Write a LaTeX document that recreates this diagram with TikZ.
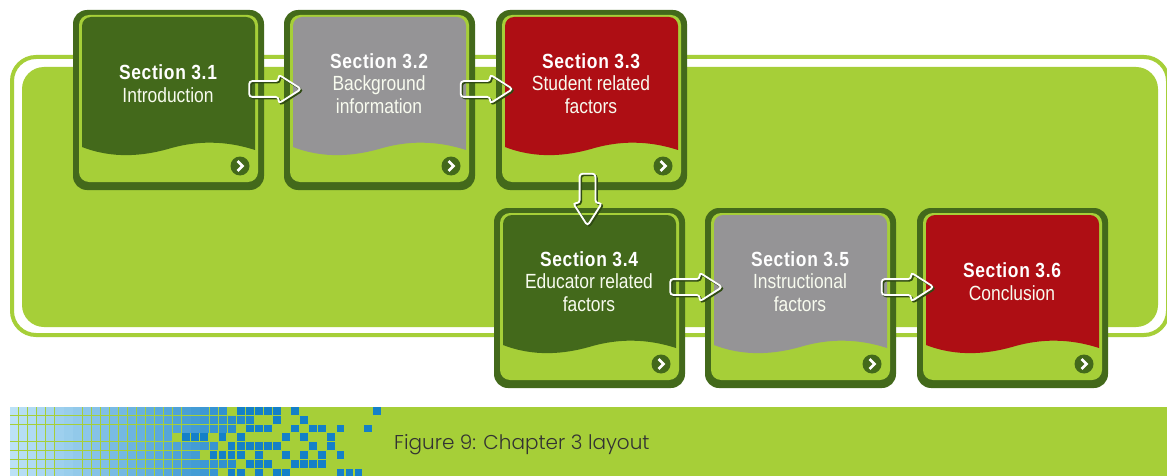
\documentclass[tikz,border=0pt]{standalone}
\usepackage{fontspec}
\usepackage{xcolor}
\usetikzlibrary{shapes.arrows}
\setmainfont[FakeStretch=0.85]{Liberation Sans}
\newfontfamily\captionfont{Poppins Light}

\definecolor{leafgreen}{HTML}{A6CF38}
\definecolor{darkgreen}{HTML}{43691B}
\definecolor{panelgrey}{HTML}{959496}
\definecolor{panelred}{HTML}{AE0E14}
\definecolor{palecell}{HTML}{BCE2F6}
\definecolor{bluecell}{HTML}{1480C8}

\tikzset{
    cardbox/.style={draw=none,fill=darkgreen,rounded corners=14pt,minimum width=191pt,minimum height=180pt,inner sep=0pt,outer sep=0pt},
    cardlabel/.style={text=white!92!leafgreen,align=center,font=\fontsize{20.5}{22.5}\selectfont},
    nextbutton/.style={circle,fill=darkgreen,minimum size=19pt,inner sep=0pt},
    flowarrow/.style={single arrow,single arrow head extend=6.5pt,single arrow tip angle=65,minimum height=52pt,minimum width=27pt,inner sep=7pt,rounded corners=3pt,line width=1.8pt,anchor=center},
    flowline/.style={flowarrow,draw=white},
    flowshade/.style={flowarrow,draw=darkgreen!70!black},
}

\newcommand{\sectitle}[1]{{\color{white}\bfseries\addfontfeature{LetterSpace=3.2}#1}}

% one section card, #2,#3 is its top left corner
\newcommand{\sectioncard}[5]{
    \begin{scope}[shift={(#2,#3)}]
        \node[cardbox] (#1) at (95.5,90) {};
        \fill[leafgreen,rounded corners=10pt] (6,5) rectangle (185,172);
        \fill[#4] (9,137) .. controls (40,149) and (70,146) .. (95,139)
            .. controls (115,133) and (145,128) .. (182,140)
            [rounded corners=9pt] -- (182,7) -- (9,7) [sharp corners] -- cycle;
        \node[cardlabel] (#1label) at (95,73.5) {#5};
        \node[nextbutton] (#1next) at (167,156) {};
        \draw[white,line width=2.6pt] (164.5,151) -- (169.5,156) -- (164.5,161);
    \end{scope}
}

\begin{document}
\begin{tikzpicture}[x=1pt,y=-1pt]
    \useasboundingbox (0,0) rectangle (1167,476);
    \fill[white] (0,0) rectangle (1167,476);

    % green panel behind the cards
    \draw[leafgreen,line width=4pt,rounded corners=24pt] (12,57) rectangle (1168,335);
    \fill[leafgreen,rounded corners=22pt] (22,67) rectangle (1158,327);

    % caption band
    \fill[leafgreen] (10,407) rectangle (1167,476);
    \begin{scope}
        \clip (10,407) rectangle (1167,476);
        \foreach \r/\last in {0/23,1/26,2/24,3/17,4/22,5/20,6/24,7/22}{
            \foreach \c in {0,...,\last}{
                \pgfmathsetmacro{\mix}{min(100,\c*3.6)}
                \fill[bluecell!\mix!palecell] (10+\c*9.07,407+\r*8.83) rectangle +(8.2,8);
            }
        }
        \foreach \r/\c in {0/25,0/26,0/27,0/28,0/29,0/31,0/40,1/29,1/32,
            2/26,2/27,2/28,2/31,2/33,2/34,2/36,2/39,
            3/19,3/20,3/21,3/23,3/25,3/30,3/32,3/35,
            4/24,4/25,4/26,4/27,4/28,4/29,4/33,4/35,
            5/22,5/23,5/24,5/25,5/27,5/30,5/32,5/34,5/36,
            6/26,6/27,6/28,6/31,6/32,6/33,6/34,
            7/24,7/25,7/27,7/29,7/30,7/36,7/37,7/38}{
            \fill[bluecell] (10+\c*9.07,407+\r*8.83) rectangle +(7.8,7.8);
        }
    \end{scope}
    \node[anchor=west,font=\captionfont\fontsize{20}{22}\selectfont,text=black!80,inner sep=0pt] (caption) at (394,445) {Figure 9: Chapter 3 layout};

    % cards
    \sectioncard{sec1}{73}{10}{darkgreen}{\sectitle{Section 3.1}\\Introduction}
    \sectioncard{sec2}{284}{10}{panelgrey}{\sectitle{Section 3.2}\\Background\\information}
    \sectioncard{sec3}{496}{10}{panelred}{\sectitle{Section 3.3}\\Student related\\factors}
    \sectioncard{sec4}{494}{208}{darkgreen}{\sectitle{Section 3.4}\\Educator related\\factors}
    \sectioncard{sec5}{705}{208}{panelgrey}{\sectitle{Section 3.5}\\Instructional\\factors}
    \sectioncard{sec6}{917}{208}{panelred}{\sectitle{Section 3.6}\\Conclusion}

    % arrows
    \foreach \from/\to in {sec1/sec2,sec2/sec3,sec4/sec5,sec5/sec6}{
        \path ([yshift=11pt]\from.east) -- ([yshift=11pt]\to.west)
            node[midway,flowshade,xshift=-3.5pt,yshift=-1.5pt] {}
            node[midway,flowline,xshift=-5pt] {};
    }
    \path ([xshift=-3pt]sec3.south) -- ([xshift=-3pt]sec4.north)
        node[midway,flowshade,shape border rotate=270,xshift=1.5pt,yshift=4pt] {}
        node[midway,flowline,shape border rotate=270,yshift=5.5pt] {};
\end{tikzpicture}
\end{document}
